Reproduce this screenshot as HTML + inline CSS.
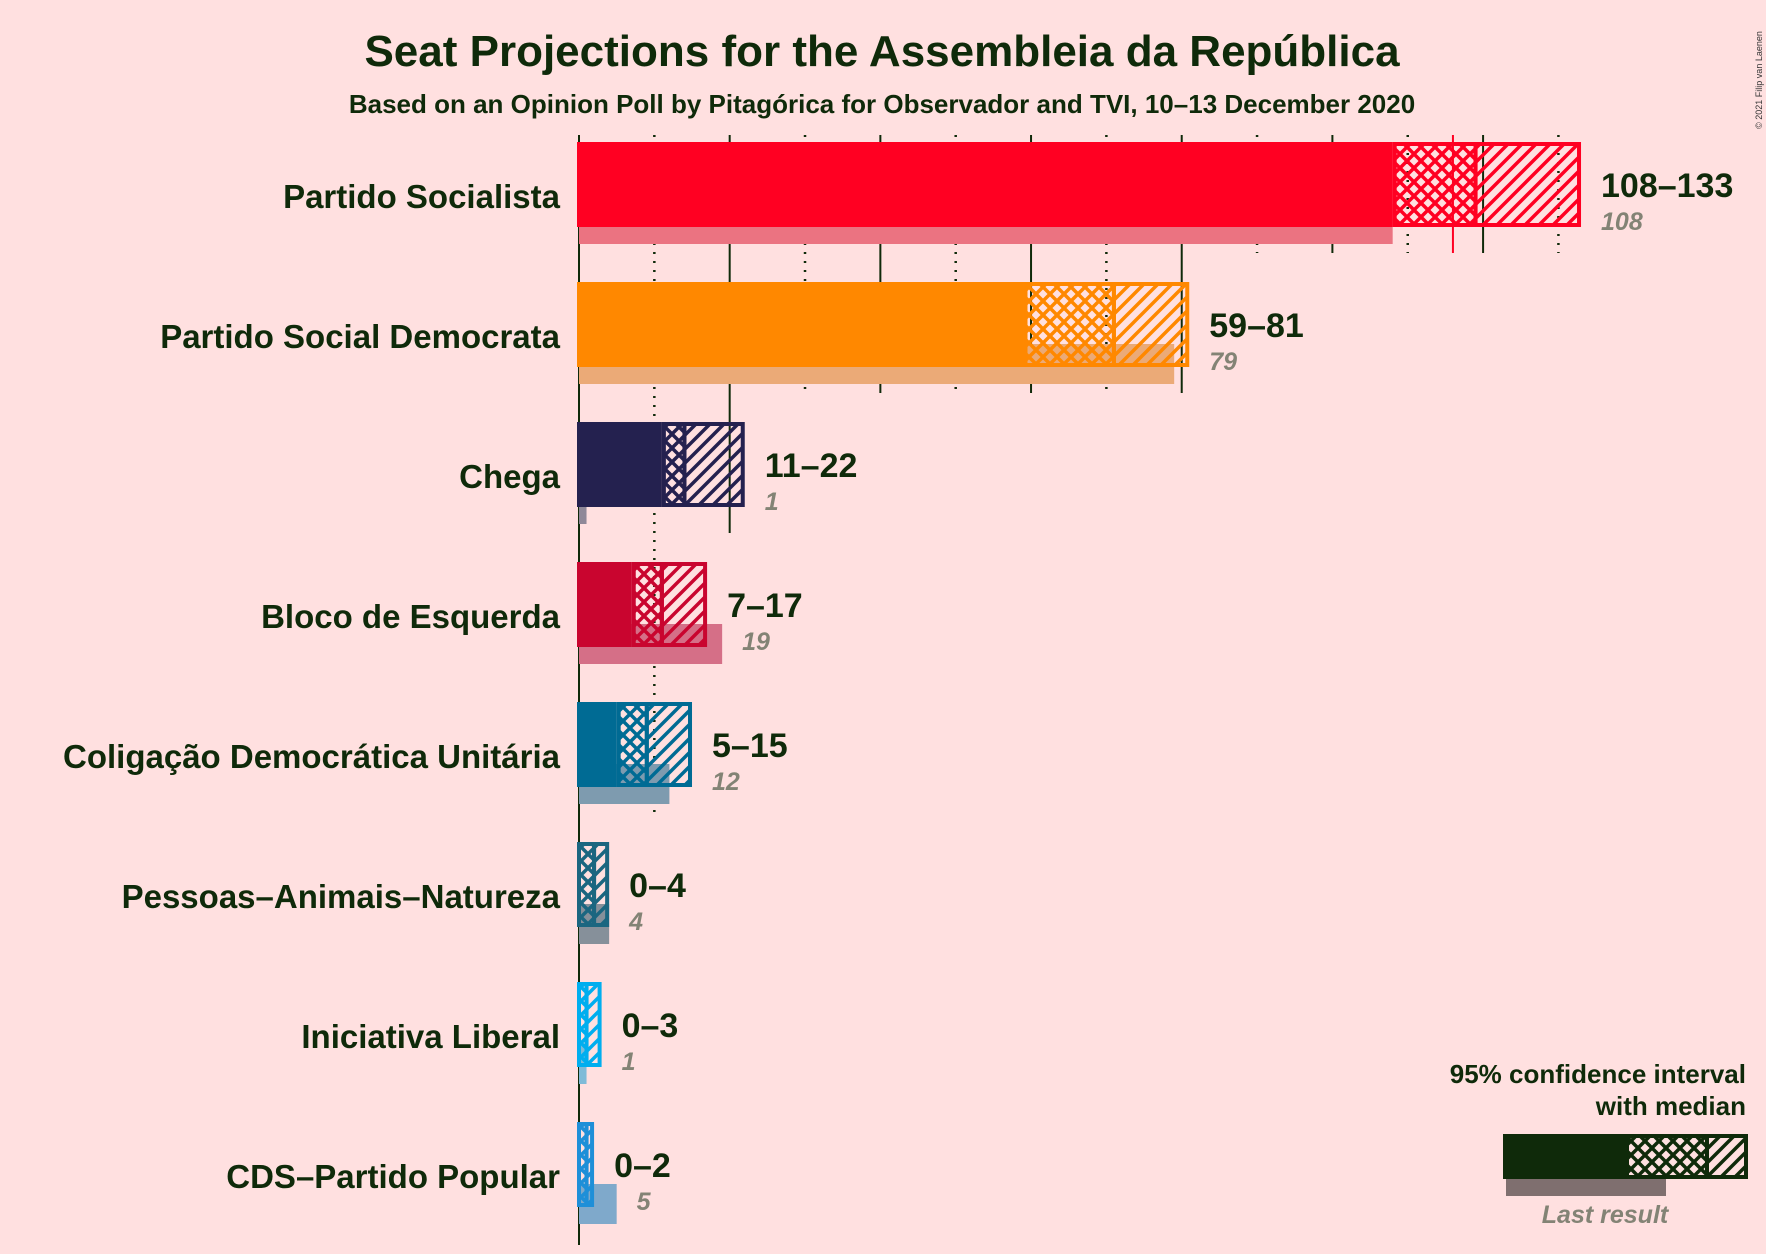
<!DOCTYPE html>
<html><head><meta charset="utf-8"><style>
html,body{margin:0;padding:0;background:#FFE0E0;}
svg{display:block;font-family:"Liberation Sans",sans-serif;}
</style></head><body>
<svg id="chart" width="1766" height="1254" viewBox="0 0 1766 1254" xmlns="http://www.w3.org/2000/svg">
<defs id="defs"></defs>
<rect width="1766" height="1254" fill="#FFE0E0"/>
<text x="882" y="66" text-anchor="middle" font-size="44" font-weight="bold" fill="#0F2A0A">Seat Projections for the Assembleia da República</text>
<text x="882" y="113" text-anchor="middle" font-size="26" font-weight="bold" fill="#0F2A0A">Based on an Opinion Poll by Pitagórica for Observador and TVI, 10–13 December 2020</text>
<text transform="translate(1762,80) rotate(-90)" text-anchor="middle" font-size="9" fill="#333">© 2021 Filip van Laenen</text>
<g id="grid"></g>
<g id="bars"></g>
<g id="legend">
<text x="1746" y="1083" text-anchor="end" font-size="26" font-weight="bold" fill="#0F2A0A">95% confidence interval</text>
<text x="1746" y="1115" text-anchor="end" font-size="26" font-weight="bold" fill="#0F2A0A">with median</text>
<rect x="1506" y="1179" width="160" height="17" fill="#7f6f6f"/>
<rect x="1503" y="1134" width="122" height="45" fill="#0F2A0A"/>
<rect x="1627" y="1136" width="80" height="41" fill="url(#xh-legend)" stroke="#0F2A0A" stroke-width="4"/>
<rect x="1707" y="1136" width="39" height="41" fill="url(#h-legend)" stroke="#0F2A0A" stroke-width="4"/>
<text x="1605" y="1223" text-anchor="middle" font-size="25" font-style="italic" font-weight="bold" fill="#838375">Last result</text>
</g>
</svg>
<script>
const parties = ["Partido Socialista","Partido Social Democrata","Chega","Bloco de Esquerda","Coligação Democrática Unitária","Pessoas–Animais–Natureza","Iniciativa Liberal","CDS–Partido Popular"];
const lows = [108,59,11,7,5,0,0,0];
const medians = [119,71,14,11,9,2,1,1];
const highs = [133,81,22,17,15,4,3,2];
const lastResults = [108,79,1,19,12,4,1,5];
const colors = ["#FF0022","#FF8800","#24214F","#C9052F","#006B94","#1B6680","#00AEEF","#1E8FD8"];
const lastColors = ["#EB7381","#EBAA77","#8F8898","#D56F87","#7E9BAF","#86909A","#7FBBD8","#7FA9CB"];
const majority = 116;
const gridTicks = [0,10,20,30,40,50,60,70,80,90,100,110,120,130];

const NS="http://www.w3.org/2000/svg";
const x0=579, pxPerSeat=7.534, rowTop0=142, rowPitch=140, barH=85;
function xs(v){return x0+v*pxPerSeat;}
function rowY(i){return rowTop0+i*rowPitch;}
function mk(tag,attrs,parent){const e=document.createElementNS(NS,tag);for(const k in attrs)e.setAttribute(k,attrs[k]);parent.appendChild(e);return e;}

const defs=document.getElementById('defs');
function makePatterns(id,col){
  const p1=mk('pattern',{id:'xh-'+id,patternUnits:'userSpaceOnUse',width:14,height:14},defs);
  mk('path',{d:'M0,0L14,14M14,0L0,14M-7,7L0,14M7,-7L14,0M0,0L-7,7M14,14L21,7',stroke:col,'stroke-width':3.5,fill:'none'},p1);
  mk('path',{d:'M-7,7L7,-7M7,21L21,7M-7,7L7,21M7,-7L21,7',stroke:col,'stroke-width':3.5,fill:'none'},p1);
  const p2=mk('pattern',{id:'h-'+id,patternUnits:'userSpaceOnUse',width:14,height:14},defs);
  mk('path',{d:'M-4,18L18,-4M-4,4L4,-4M10,18L18,10',stroke:col,'stroke-width':3.5,fill:'none'},p2);
}
makePatterns('legend','#0F2A0A');
colors.forEach((c,i)=>makePatterns('p'+i,c));

const grid=document.getElementById('grid');
gridTicks.forEach(t=>{
  let last=0;
  for(let i=0;i<parties.length;i++){ if(Math.max(highs[i],lastResults[i])>=t) last=i; }
  if(t===0) last=parties.length-1;
  const yb=rowY(last)+(t===0?123:111);
  const ln=mk('line',{x1:xs(t),x2:xs(t),y1:135,y2:yb,stroke:'#0F2A0A','stroke-width':t%20===0?2:2.5,'stroke-dasharray':t%20===0?'none':'2,7'},grid);
  
  
});

const bars=document.getElementById('bars');
parties.forEach((name,i)=>{
  const y=rowY(i);
  const g=mk('g',{},bars);
  
  
  const lb=mk('rect',{x:x0,y:y+62,width:Math.max(lastResults[i]*pxPerSeat,2),height:40,fill:lastColors[i]},g);
  
  
  if(lows[i]>0){
    const sb=mk('rect',{x:x0-2,y:y,width:xs(lows[i])-x0+2,height:barH,fill:colors[i]},g);
    
    
  }
  const xl=lows[i]>0?xs(lows[i]):x0-2;
  const xh=mk('rect',{x:xl+2,y:y+2,width:Math.max(xs(medians[i])-xl-2,1),height:barH-4,fill:'url(#xh-p'+i+')',stroke:colors[i],'stroke-width':4},g);
  
  
  const hh=mk('rect',{x:xs(medians[i]),y:y+2,width:xs(highs[i])-xs(medians[i])-2,height:barH-4,fill:'url(#h-p'+i+')',stroke:colors[i],'stroke-width':4},g);
  
  
  const lab=mk('text',{x:560,y:y+66,'text-anchor':'end','font-size':33,'font-weight':'bold',fill:'#0F2A0A'},g);
  lab.textContent=name;
  
  
  const rx=xs(highs[i])+20;
  const rl=mk('text',{x:rx,y:y+55,'font-size':34,'font-weight':'bold',fill:'#0F2A0A'},g);
  rl.textContent=lows[i]+'–'+highs[i];
  
  
  const ll=mk('text',{x:Math.max(rx,xs(lastResults[i])+20),y:y+88,'font-size':25,'font-style':'italic','font-weight':'bold',fill:'#838375'},g);
  ll.textContent=lastResults[i];
  
  
});
const mj=mk('line',{x1:xs(majority),x2:xs(majority),y1:135,y2:253,stroke:'#FF0022','stroke-width':2},bars);


</script>
</body></html>
